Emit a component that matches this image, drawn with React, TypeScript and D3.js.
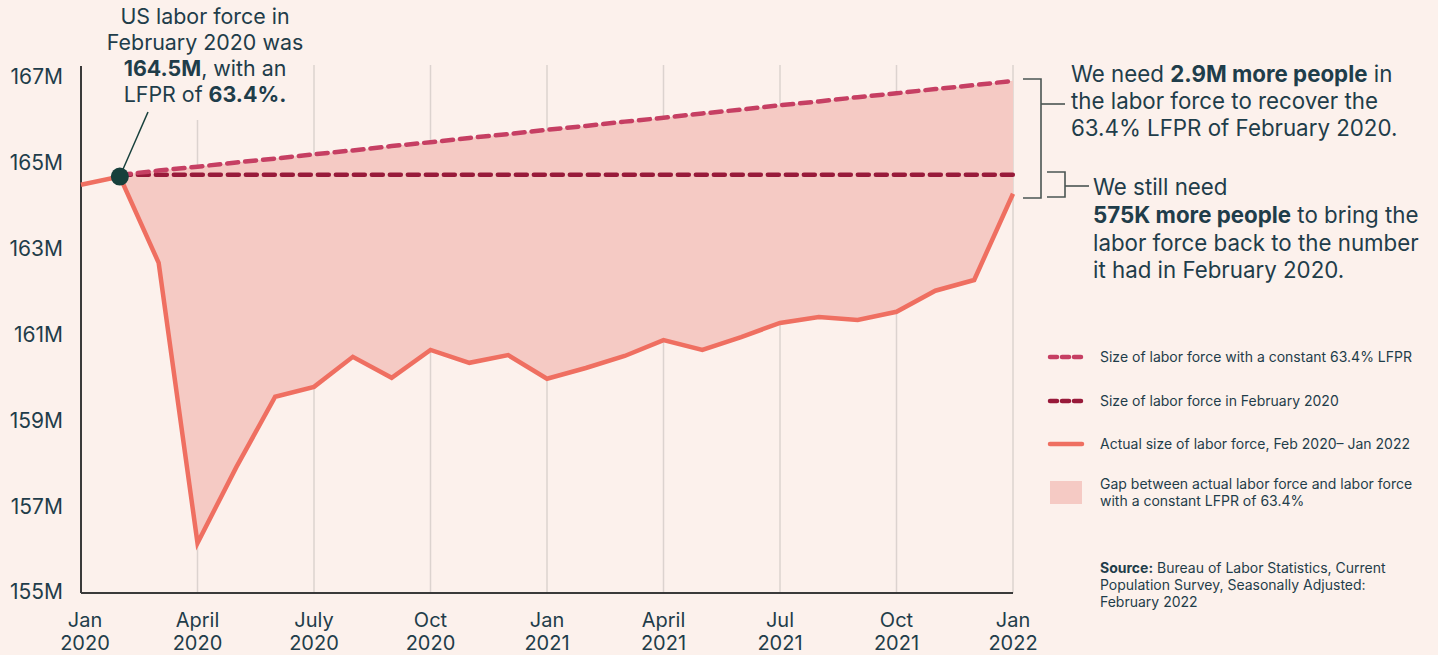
import React from "react";
import * as d3 from "d3";

// ---------- DATA ----------
// Months from Jan 2020 (index 0) to Jan 2022 (index 24)
const monthLabels = [
  "Jan 2020", "Feb 2020", "Mar 2020", "Apr 2020", "May 2020", "Jun 2020",
  "Jul 2020", "Aug 2020", "Sep 2020", "Oct 2020", "Nov 2020", "Dec 2020",
  "Jan 2021", "Feb 2021", "Mar 2021", "Apr 2021", "May 2021", "Jun 2021",
  "Jul 2021", "Aug 2021", "Sep 2021", "Oct 2021", "Nov 2021", "Dec 2021",
  "Jan 2022",
];
// Actual labor force (millions), Jan 2020 - Jan 2022
const actualLaborForce = [
  164.49, 164.68, 162.67, 156.14, 157.91, 159.55, 159.78, 160.48, 159.99,
  160.64, 160.34, 160.52, 159.97, 160.22, 160.5, 160.87, 160.64, 160.94,
  161.27, 161.41, 161.34, 161.53, 162.02, 162.27, 164.28,
];
// Labor force with constant 63.4% LFPR, Feb 2020 - Jan 2022
const constantLfprLaborForce = [
  164.72, 164.82, 164.91, 165.01, 165.1, 165.2, 165.29, 165.39, 165.48,
  165.58, 165.67, 165.77, 165.86, 165.96, 166.05, 166.15, 166.24, 166.34,
  166.43, 166.53, 166.62, 166.72, 166.81, 166.91,
];
const feb2020Level = 164.72;
const yTicks = [155, 157, 159, 161, 163, 165, 167];
const xTickMonths = [0, 3, 6, 9, 12, 15, 18, 21, 24];
const xTickLabels = [
  ["Jan", "2020"], ["April", "2020"], ["July", "2020"], ["Oct", "2020"],
  ["Jan", "2021"], ["April", "2021"], ["Jul", "2021"], ["Oct", "2021"],
  ["Jan", "2022"],
];
const legendItems = [
  "Size of labor force with a constant 63.4% LFPR",
  "Size of labor force in February 2020",
  "Actual size of labor force, Feb 2020\u2013 Jan 2022",
];

// ---------- STYLE ----------
const BG = "#fcf1ec";
const TEXT = "#1f3d4a";
const FILL = "#f5cac4";
const LINE = "#ef6f61";
const UPPER = "#c63f63";
const FLAT = "#981a3a";
const DOT = "#17403c";
const GRID = "#dcd3cf";
const AXIS = "#3a3a3a";
const FONT = "Inter, 'Noto Sans', sans-serif";

export default function App() {
  const W = 1438;
  const H = 655;
  const x = d3.scaleLinear().domain([0, 24]).range([81, 1013]);
  const y = d3.scaleLinear().domain([155, 167]).range([592, 77]);

  const actualPts = actualLaborForce.map((v, i) => [x(i), y(v)] as [number, number]);
  const lineGen = d3.line<[number, number]>().x((d) => d[0]).y((d) => d[1]);

  const upperPts = constantLfprLaborForce.map((v, i) => ({ i: i + 1, v }));
  const area = d3
    .area<{ i: number; v: number }>()
    .x((d) => x(d.i))
    .y0((d) => y(actualLaborForce[d.i]))
    .y1((d) => y(d.v));
  const upperLine = d3
    .line<{ i: number; v: number }>()
    .x((d) => x(d.i))
    .y((d) => y(d.v));

  const flatLine = d3
    .line<number>()
    .x((d) => x(d))
    .y(() => y(feb2020Level));

  const axisTop = 66;
  const axisBottom = 593;
  const dotX = x(1) + 3;

  return (
    <div style={{ position: "absolute", left: 0, top: 0, width: W, height: H, background: BG }}>
      <svg width={W} height={H} style={{ display: "block", fontFamily: FONT }}>
        <rect x={0} y={0} width={W} height={H} fill={BG} />

        {/* vertical gridlines */}
        {xTickMonths.slice(1).map((m) => (
          <line
            key={"g" + m}
            x1={x(m)}
            x2={x(m)}
            y1={m === 3 ? 120 : 65}
            y2={axisBottom}
            stroke={GRID}
            strokeWidth={1.5}
          />
        ))}

        {/* gap area */}
        <path d={area(upperPts) || ""} fill={FILL} />

        {/* axes */}
        <line x1={81} x2={81} y1={axisTop} y2={axisBottom} stroke={AXIS} strokeWidth={2} />
        <line x1={81} x2={1013} y1={axisBottom} y2={axisBottom} stroke={AXIS} strokeWidth={2} />

        {/* actual line */}
        <path
          d={lineGen(actualPts) || ""}
          fill="none"
          stroke={LINE}
          strokeWidth={4.5}
          strokeLinejoin="miter"
        />

        {/* dashed lines */}
        <path
          d={flatLine(d3.range(1, 25)) || ""}
          fill="none"
          stroke={FLAT}
          strokeWidth={4.5}
          strokeDasharray="11 7"
          strokeLinecap="round"
        />
        <path
          d={upperLine(upperPts) || ""}
          fill="none"
          stroke={UPPER}
          strokeWidth={4.5}
          strokeDasharray="11 7"
          strokeLinecap="round"
        />

        {/* leader line and dot */}
        <line x1={148} y1={112} x2={x(1)} y2={y(actualLaborForce[1])} stroke={DOT} strokeWidth={1.5} />
        <circle cx={x(1)} cy={y(actualLaborForce[1])} r={9} fill={DOT} />

        {/* y tick labels */}
        {yTicks.map((t) => (
          <text
            key={"y" + t}
            x={63}
            y={y(t)}
            dy="0.35em"
            textAnchor="end"
            fontSize={21}
            fill={TEXT}
          >
            {t}M
          </text>
        ))}

        {/* x tick labels */}
        {xTickMonths.map((m, i) => (
          <text key={"x" + m} x={x(m) + (i === 0 ? 4 : 0)} textAnchor="middle" fontSize={20} fill={TEXT}>
            <tspan x={x(m) + (i === 0 ? 4 : 0)} y={627}>{xTickLabels[i][0]}</tspan>
            <tspan x={x(m) + (i === 0 ? 4 : 0)} y={650}>{xTickLabels[i][1]}</tspan>
          </text>
        ))}

        {/* top-left annotation */}
        <g fontSize={21.4} fill={TEXT} textAnchor="middle">
          <text x={205} y={24}>US labor force in</text>
          <text x={205} y={50}>February 2020 was</text>
          <text x={205} y={76}>
            <tspan fontWeight={700}>164.5M</tspan>, with an
          </text>
          <text x={205} y={102}>
            LFPR of <tspan fontWeight={700}>63.4%.</tspan>
          </text>
        </g>

        {/* right brackets */}
        <g stroke="#4a5553" strokeWidth={1.6} fill="none">
          <polyline points={`1023,79 1041,79 1041,198 1023,198`} />
          <line x1={1041} y1={104} x2={1065} y2={104} />
          <polyline points={`1047,172 1065,172 1065,197 1047,197`} />
          <line x1={1065} y1={186} x2={1089} y2={186} />
        </g>

        {/* right annotations */}
        <g fontSize={22.3} fill={TEXT}>
          <text x={1071} y={82}>
            We need <tspan fontWeight={700}>2.9M more people</tspan> in
          </text>
          <text x={1071} y={109}>the labor force to recover the</text>
          <text x={1071} y={136}>63.4% LFPR of February 2020.</text>
          <text x={1093} y={195}>We still need</text>
          <text x={1093} y={223}>
            <tspan fontWeight={700}>575K more people</tspan> to bring the
          </text>
          <text x={1093} y={251}>labor force back to the number</text>
          <text x={1093} y={278}>it had in February 2020.</text>
        </g>

        {/* legend */}
        <g fontSize={14} fill={TEXT}>
          <line x1={1050} x2={1082} y1={357} y2={357} stroke={UPPER} strokeWidth={4.5} strokeDasharray="7 5" strokeLinecap="round" />
          <text x={1100} y={362}>{legendItems[0]}</text>
          <line x1={1050} x2={1082} y1={401} y2={401} stroke={FLAT} strokeWidth={4.5} strokeDasharray="7 5" strokeLinecap="round" />
          <text x={1100} y={406}>{legendItems[1]}</text>
          <line x1={1050} x2={1082} y1={444} y2={444} stroke={LINE} strokeWidth={4.5} strokeLinecap="round" />
          <text x={1100} y={449}>{legendItems[2]}</text>
          <rect x={1050} y={481} width={32} height={23} fill={FILL} />
          <text x={1100} y={489}>Gap between actual labor force and labor force</text>
          <text x={1100} y={506}>with a constant LFPR of 63.4%</text>
        </g>

        {/* source */}
        <g fontSize={14} fill={TEXT}>
          <text x={1100} y={573}>
            <tspan fontWeight={700}>Source:</tspan> Bureau of Labor Statistics, Current
          </text>
          <text x={1100} y={590}>Population Survey, Seasonally Adjusted:</text>
          <text x={1100} y={607}>February 2022</text>
        </g>
      </svg>
    </div>
  );
}
